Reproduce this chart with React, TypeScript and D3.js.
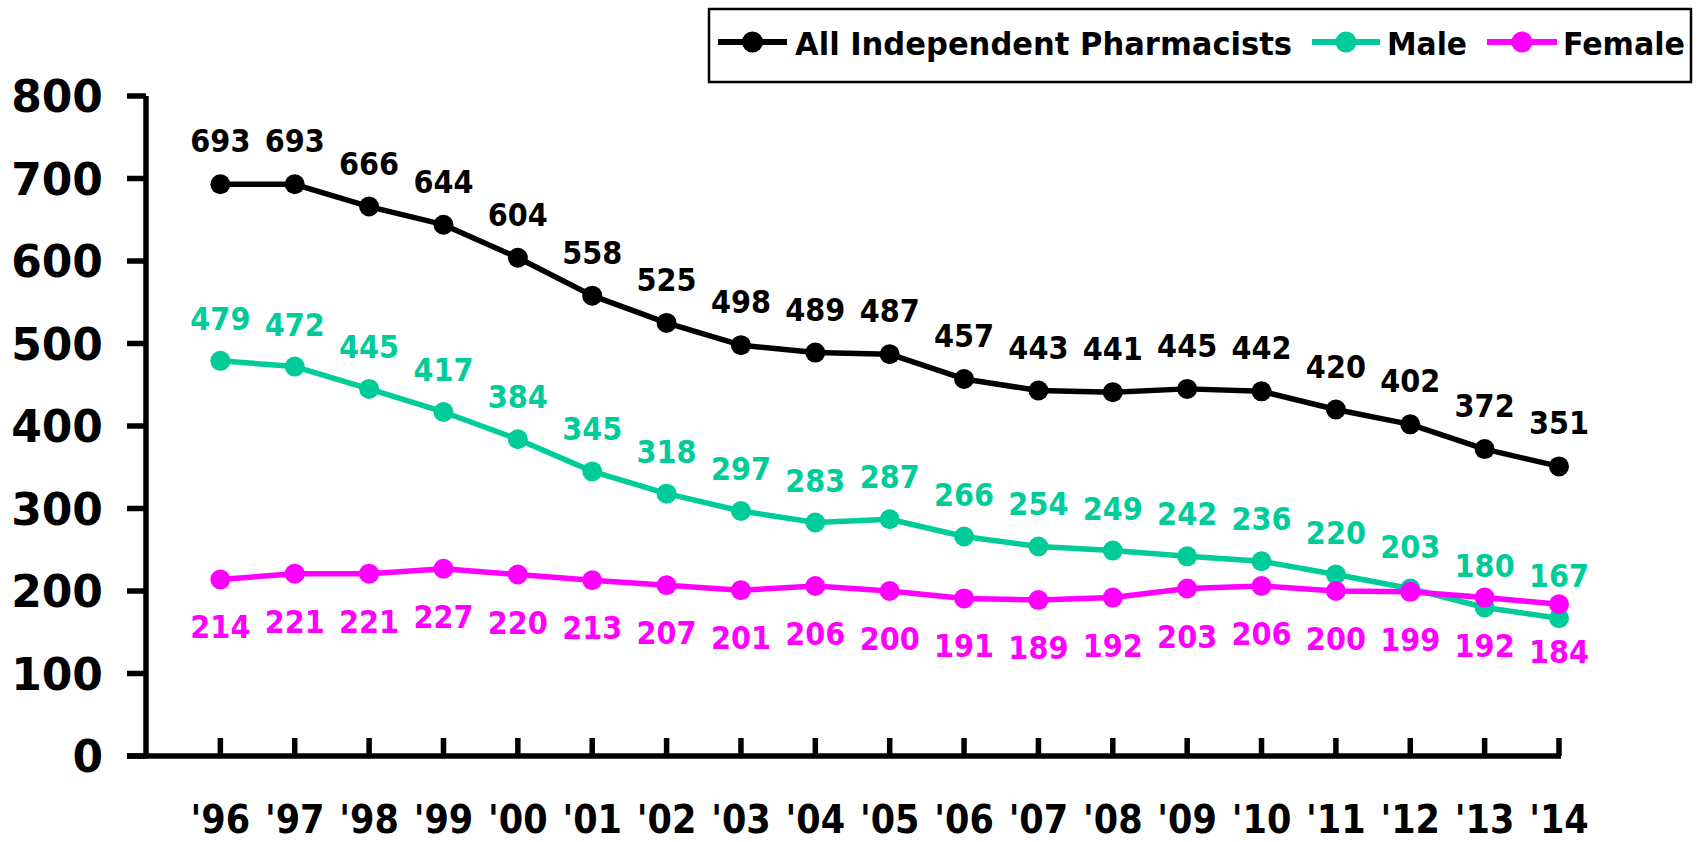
import React from "react";
import * as d3 from "d3";

const years = ["'96", "'97", "'98", "'99", "'00", "'01", "'02", "'03", "'04", "'05", "'06", "'07", "'08", "'09", "'10", "'11", "'12", "'13", "'14"];
const allValues = [693, 693, 666, 644, 604, 558, 525, 498, 489, 487, 457, 443, 441, 445, 442, 420, 402, 372, 351];
const maleValues = [479, 472, 445, 417, 384, 345, 318, 297, 283, 287, 266, 254, 249, 242, 236, 220, 203, 180, 167];
const femaleValues = [214, 221, 221, 227, 220, 213, 207, 201, 206, 200, 191, 189, 192, 203, 206, 200, 199, 192, 184];
const yTicks = [0, 100, 200, 300, 400, 500, 600, 700, 800];

const seriesList = [
  { name: "All Independent Pharmacists", values: allValues, color: "#000000", labelDy: -32 },
  { name: "Male", values: maleValues, color: "#00CC99", labelDy: -31 },
  { name: "Female", values: femaleValues, color: "#FF00FF", labelDy: 59 },
];

const legendItems = [
  { name: "All Independent Pharmacists", color: "#000000", lineX0: 718, lineX1: 787, textX: 795, textW: 497 },
  { name: "Male", color: "#00CC99", lineX0: 1312, lineX1: 1380, textX: 1387, textW: 80 },
  { name: "Female", color: "#FF00FF", lineX0: 1487, lineX1: 1557, textX: 1563, textW: 122 },
];

const COND = "'DejaVu Sans Condensed', 'DejaVu Sans', sans-serif";
const WIDE = "'DejaVu Sans', sans-serif";

export default function App() {
  const x = d3.scaleLinear().domain([-1, years.length - 1]).range([146, 1559]);
  const y = d3.scaleLinear().domain([0, 800]).range([756, 96]);
  const line = d3
    .line<number>()
    .x((_, i) => x(i))
    .y((d) => y(d));

  return (
    <svg width={1700} height={842} style={{ position: "absolute", left: 0, top: 0, background: "#fff" }}>
      <rect x={0} y={0} width={1700} height={842} fill="#fff" />
      {/* axes */}
      <line x1={146} x2={146} y1={y(800)} y2={y(0)} stroke="#000" strokeWidth={5.5} />
      <line x1={127} x2={x(years.length - 1) + 2} y1={y(0)} y2={y(0)} stroke="#000" strokeWidth={5.5} />
      {yTicks.map((t) => (
        <g key={t}>
          <line x1={127} x2={146} y1={y(t)} y2={y(t)} stroke="#000" strokeWidth={5.5} />
          <text x={103} y={y(t) + 16} textAnchor="end" fontFamily={WIDE} fontWeight="bold" fontSize={44} fill="#000">
            {t}
          </text>
        </g>
      ))}
      {years.map((yr, i) => (
        <g key={yr}>
          <line x1={x(i)} x2={x(i)} y1={y(0) - 18} y2={y(0)} stroke="#000" strokeWidth={5.5} />
          <text x={x(i)} y={833} textAnchor="middle" fontFamily={COND} fontWeight="bold" fontSize={39} fill="#000">
            {yr}
          </text>
        </g>
      ))}
      {/* series */}
      {seriesList.map((s) => (
        <g key={s.name}>
          <path d={line(s.values) || ""} fill="none" stroke={s.color} strokeWidth={5.5} strokeLinejoin="round" />
          {s.values.map((v, i) => (
            <circle key={i} cx={x(i)} cy={y(v)} r={10} fill={s.color} />
          ))}
        </g>
      ))}
      {seriesList.map((s) => (
        <g key={s.name + "-labels"}>
          {s.values.map((v, i) => (
            <text
              key={i}
              x={x(i)}
              y={y(v) + s.labelDy}
              textAnchor="middle"
              fontFamily={COND}
              fontWeight="bold"
              fontSize={32}
              fill={s.color}
            >
              {v}
            </text>
          ))}
        </g>
      ))}
      {/* legend */}
      <rect x={709} y={9} width={982} height={73} fill="#fff" stroke="#000" strokeWidth={2.5} />
      {legendItems.map((l) => (
        <g key={l.name}>
          <line x1={l.lineX0} x2={l.lineX1} y1={42} y2={42} stroke={l.color} strokeWidth={6} />
          <circle cx={(l.lineX0 + l.lineX1) / 2} cy={42} r={10.5} fill={l.color} />
          <text
            x={l.textX}
            y={55}
            fontFamily={COND}
            fontWeight="bold"
            fontSize={32}
            fill="#000"
            textLength={l.textW}
            lengthAdjust="spacingAndGlyphs"
          >
            {l.name}
          </text>
        </g>
      ))}
    </svg>
  );
}
